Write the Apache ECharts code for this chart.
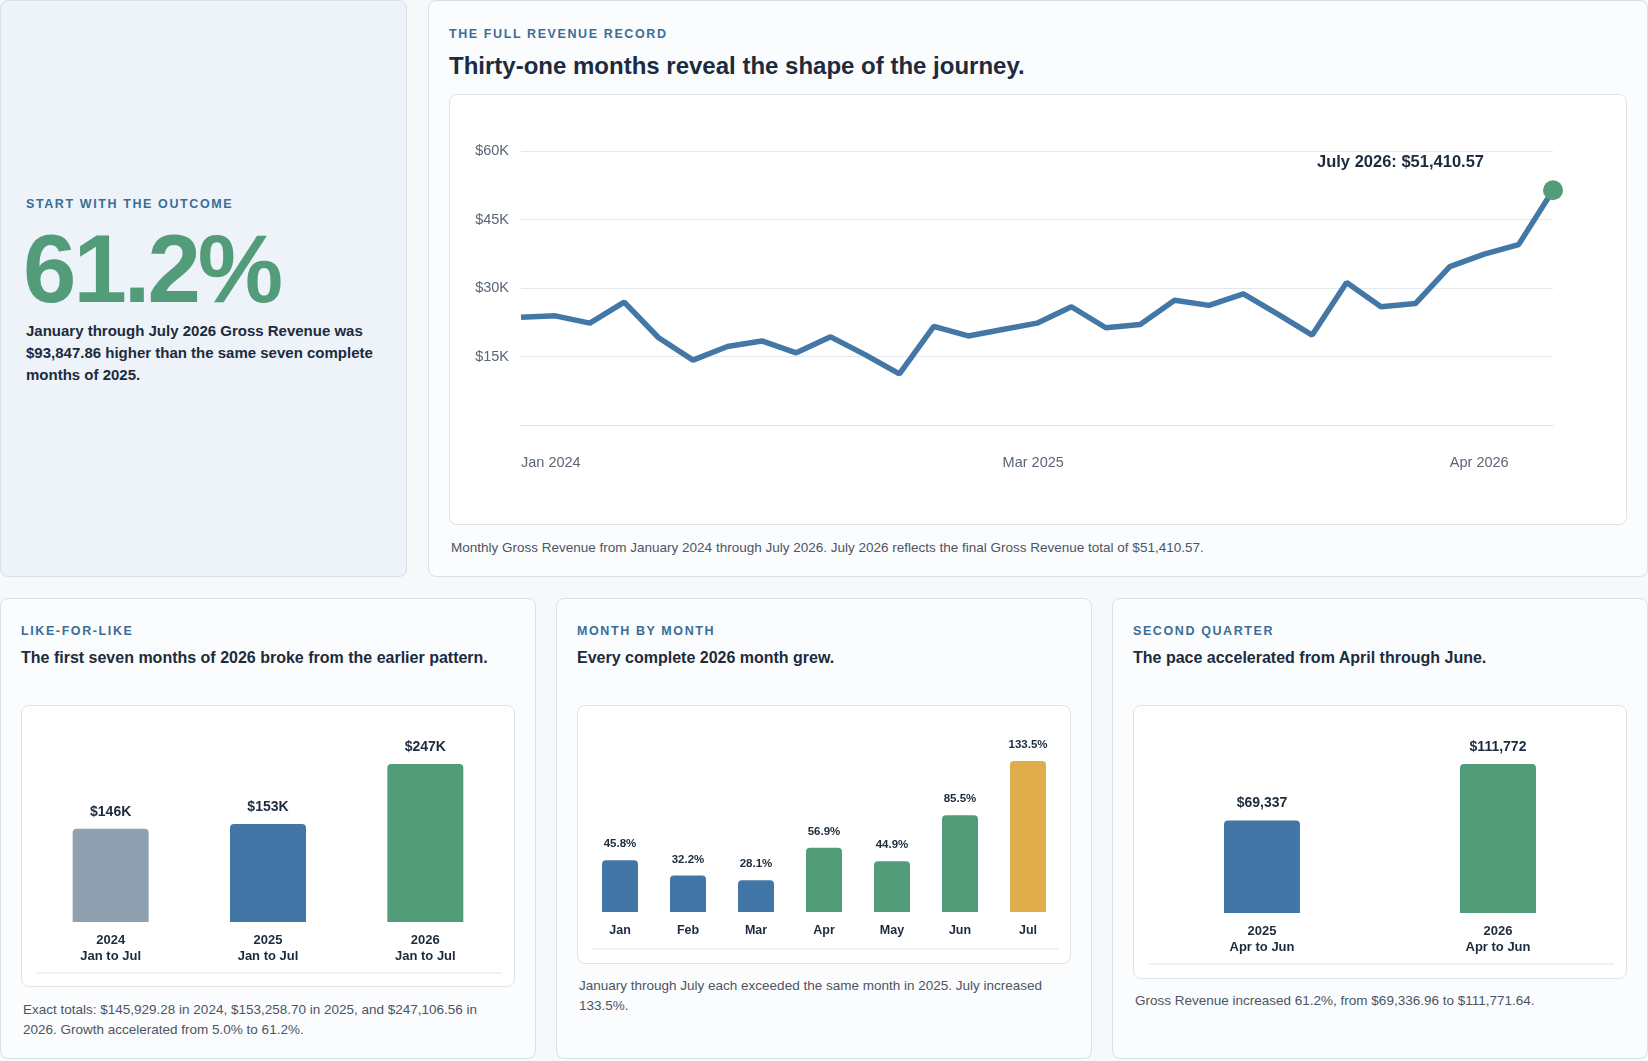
<!DOCTYPE html>
<html>
<head>
<meta charset="utf-8">
<script src="https://cdn.jsdelivr.net/npm/echarts@6/dist/echarts.min.js"></script>
<style>
  html, body { margin: 0; padding: 0; background: #f6f8fa; font-family: "Liberation Sans", Arial, sans-serif; }
  .page { position: relative; width: 1648px; height: 1061px; }
  .card { position: absolute; box-sizing: border-box; background: #fbfcfd; border: 1px solid #d8e0e8; border-radius: 8px; }
  .eyebrow { font-size: 12.5px; font-weight: bold; letter-spacing: 1.6px; color: #3a6e98; text-transform: uppercase; }
  .title { color: #1c2b3d; font-weight: bold; }
  .box { position: absolute; box-sizing: border-box; background: #fff; border: 1px solid #dde3ea; border-radius: 8px; }
  .cap { position: absolute; font-size: 13.5px; color: #4b5565; line-height: 20px; }
</style>
</head>
<body>
<div class="page">
  <div class="card" style="left:0;top:0;width:407px;height:577px;background:#edf3f9;">
    <div class="eyebrow" style="position:absolute;left:25px;top:196px;">Start with the outcome</div>
    <div style="position:absolute;left:22px;top:218px;font-size:96px;font-weight:bold;color:#529c7a;letter-spacing:-3px;line-height:100px;">61.2%</div>
    <div class="title" style="position:absolute;left:25px;top:319px;width:360px;font-size:15px;line-height:22px;">January through July 2026 Gross Revenue was $93,847.86 higher than the same seven complete months of 2025.</div>
  </div>

  <div class="card" style="left:428px;top:0;width:1220px;height:577px;">
    <div class="eyebrow" style="position:absolute;left:20px;top:26px;">The full revenue record</div>
    <div class="title" style="position:absolute;left:20px;top:51px;font-size:24px;">Thirty-one months reveal the shape of the journey.</div>
    <div class="box" style="left:20px;top:93px;width:1178px;height:431px;"><div id="line" style="width:100%;height:100%;"></div></div>
    <div class="cap" style="left:22px;top:537px;">Monthly Gross Revenue from January 2024 through July 2026. July 2026 reflects the final Gross Revenue total of $51,410.57.</div>
  </div>

  <div class="card" style="left:0;top:598px;width:536px;height:461px;">
    <div class="eyebrow" style="position:absolute;left:20px;top:25px;">Like-for-like</div>
    <div class="title" style="position:absolute;left:20px;top:50px;font-size:16px;">The first seven months of 2026 broke from the earlier pattern.</div>
    <div class="box" style="left:20px;top:106px;width:494px;height:282px;"><div id="c1" style="width:100%;height:100%;"></div></div>
    <div class="cap" style="left:22px;top:401px;width:490px;">Exact totals: $145,929.28 in 2024, $153,258.70 in 2025, and $247,106.56 in 2026. Growth accelerated from 5.0% to 61.2%.</div>
  </div>

  <div class="card" style="left:556px;top:598px;width:536px;height:461px;">
    <div class="eyebrow" style="position:absolute;left:20px;top:25px;">Month by month</div>
    <div class="title" style="position:absolute;left:20px;top:50px;font-size:16px;">Every complete 2026 month grew.</div>
    <div class="box" style="left:20px;top:106px;width:494px;height:259px;"><div id="c2" style="width:100%;height:100%;"></div></div>
    <div class="cap" style="left:22px;top:377px;width:480px;">January through July each exceeded the same month in 2025. July increased 133.5%.</div>
  </div>

  <div class="card" style="left:1112px;top:598px;width:536px;height:461px;">
    <div class="eyebrow" style="position:absolute;left:20px;top:25px;">Second quarter</div>
    <div class="title" style="position:absolute;left:20px;top:50px;font-size:16px;">The pace accelerated from April through June.</div>
    <div class="box" style="left:20px;top:106px;width:494px;height:274px;"><div id="c3" style="width:100%;height:100%;"></div></div>
    <div class="cap" style="left:22px;top:392px;">Gross Revenue increased 61.2%, from $69,336.96 to $111,771.64.</div>
  </div>
</div>

<script>
var months = ['Jan 2024','Feb 2024','Mar 2024','Apr 2024','May 2024','Jun 2024','Jul 2024','Aug 2024','Sep 2024','Oct 2024','Nov 2024','Dec 2024',
  'Jan 2025','Feb 2025','Mar 2025','Apr 2025','May 2025','Jun 2025','Jul 2025','Aug 2025','Sep 2025','Oct 2025','Nov 2025','Dec 2025',
  'Jan 2026','Feb 2026','Mar 2026','Apr 2026','May 2026','Jun 2026','Jul 2026'];
var revenue = [23600, 23900, 22300, 26900, 19100, 14200, 17200, 18400, 15800, 19300, 15400, 11200,
  21600, 19500, 20900, 22300, 25900, 21300, 22000, 27300, 26200, 28700, 24300, 19700,
  31200, 25900, 26600, 34700, 37400, 39500, 51410.57];
var shownMonthLabels = [0, 14, 27];

var periodLabels = ['2024\nJan to Jul', '2025\nJan to Jul', '2026\nJan to Jul'];
var periodTotals = [145929.28, 153258.70, 247106.56];
var periodColors = ['#8fa0b0', '#4276a6', '#529c7a'];

var monthNames = ['Jan', 'Feb', 'Mar', 'Apr', 'May', 'Jun', 'Jul'];
var monthGrowth = [45.8, 32.2, 28.1, 56.9, 44.9, 85.5, 133.5];
var monthColors = ['#4276a6', '#4276a6', '#4276a6', '#529c7a', '#529c7a', '#529c7a', '#e0ad4c'];

var quarterLabels = ['2025\nApr to Jun', '2026\nApr to Jun'];
var quarterTotals = [69336.96, 111771.64];
var quarterColors = ['#4276a6', '#529c7a'];

var dark = '#1c2b3d';

var lineChart = echarts.init(document.getElementById('line'));
lineChart.setOption({
  animation: false,
  grid: { left: 71, right: 73, top: 56, bottom: 99 },
  xAxis: {
    type: 'category', data: months, boundaryGap: false,
    axisLine: { lineStyle: { color: '#dfe4ea' } }, axisTick: { show: false },
    axisLabel: {
      color: '#5a6677', fontSize: 14.5, margin: 30, align: 'left',
      interval: function (i) { return shownMonthLabels.indexOf(i) >= 0; },
      formatter: function (v) { return v; }
    }
  },
  yAxis: {
    type: 'value', min: 0, max: 60000, interval: 15000,
    axisLabel: { color: '#5a6677', fontSize: 14.5, margin: 12,
      formatter: function (v) { return v === 0 ? '' : '$' + v / 1000 + 'K'; } },
    splitLine: { lineStyle: { color: '#e3e8ee' } }
  },
  series: [{
    type: 'line', symbol: 'none', lineStyle: { color: '#4277a6', width: 5.5 },
    data: revenue.map(function (v, i) {
      if (i !== revenue.length - 1) return v;
      return {
        value: v, symbol: 'circle', symbolSize: 20,
        itemStyle: { color: '#529c7a' },
        label: { show: true, position: 'top', align: 'right', offset: [-69, -4],
          color: dark, fontSize: 16.5, fontWeight: 'bold',
          formatter: 'July 2026: $51,410.57' }
      };
    })
  }]
});

function barChart(id, cats, values, colors, opts) {
  var c = echarts.init(document.getElementById(id));
  c.setOption({
    animation: false,
    grid: { left: opts.left, right: opts.right, top: opts.top, bottom: opts.bottom },
    xAxis: {
      type: 'category', data: cats,
      axisLine: { show: false }, axisTick: { show: false },
      axisLabel: { color: dark, fontWeight: 'bold', fontSize: opts.fs, lineHeight: 16, margin: opts.margin, interval: 0 }
    },
    yAxis: { type: 'value', min: 0, max: Math.max.apply(null, values), show: false },
    series: [{
      type: 'bar', barWidth: opts.barWidth,
      data: values.map(function (v, i) { return { value: v, itemStyle: { color: colors[i], borderRadius: [4, 4, 0, 0] } }; }),
      label: { show: true, position: 'top', distance: 10, color: dark, fontWeight: 'bold', fontSize: opts.lfs, formatter: opts.fmt }
    }],
    graphic: [{ type: 'line', shape: { x1: 14, y1: opts.lineY, x2: 480, y2: opts.lineY }, style: { stroke: '#dfe4ea', lineWidth: 1 } }]
  });
}

barChart('c1', periodLabels, periodTotals, periodColors, {
  left: 10, right: 10, top: 58, bottom: 64, barWidth: 76, fs: 13, lfs: 14, margin: 10, lineY: 267,
  fmt: function (p) { return '$' + Math.round(p.value / 1000) + 'K'; }
});
barChart('c2', monthNames, monthGrowth, monthColors, {
  left: 8, right: 8, top: 55, bottom: 51, barWidth: 36, fs: 12.5, lfs: 11.5, margin: 11, lineY: 243,
  fmt: function (p) { return p.value.toFixed(1) + '%'; }
});
barChart('c3', quarterLabels, quarterTotals, quarterColors, {
  left: 10, right: 10, top: 58, bottom: 65, barWidth: 76, fs: 13, lfs: 14, margin: 10, lineY: 258,
  fmt: function (p) { return '$' + Math.round(p.value).toLocaleString('en-US'); }
});
</script>
</body>
</html>
